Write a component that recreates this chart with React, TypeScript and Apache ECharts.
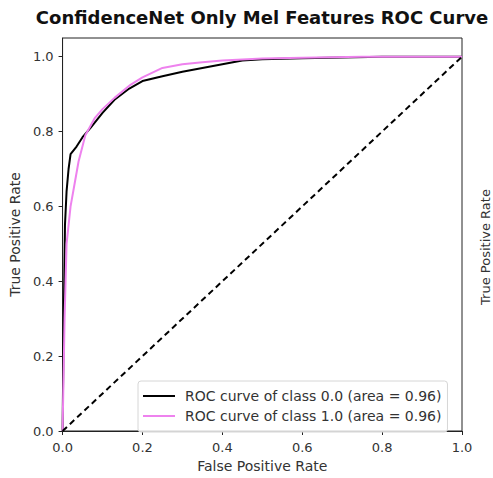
import React, { useEffect, useRef } from "react";
import * as echarts from "echarts";

// ROC curve points (false positive rate, true positive rate)
const fprClass0 = [0, 0.003, 0.006, 0.01, 0.015, 0.02, 0.035, 0.05, 0.07, 0.1, 0.13, 0.167, 0.2, 0.25, 0.3, 0.35, 0.4, 0.45, 0.5, 0.6, 0.7, 0.8, 1.0];
const tprClass0 = [0, 0.3, 0.55, 0.64, 0.7, 0.74, 0.76, 0.785, 0.81, 0.85, 0.885, 0.915, 0.935, 0.948, 0.96, 0.97, 0.98, 0.99, 0.993, 0.996, 0.998, 1.0, 1.0];

const fprClass1 = [0, 0.005, 0.01, 0.02, 0.03, 0.04, 0.057, 0.08, 0.1, 0.13, 0.17, 0.2, 0.25, 0.3, 0.35, 0.4, 0.5, 0.6, 0.75, 1.0];
const tprClass1 = [0, 0.3, 0.5, 0.6, 0.66, 0.72, 0.79, 0.835, 0.86, 0.89, 0.925, 0.945, 0.97, 0.98, 0.985, 0.99, 0.995, 0.997, 1.0, 1.0];

const chanceLine = [
  [0, 0],
  [1, 1],
];

const tickValues = [0, 0.2, 0.4, 0.6, 0.8, 1.0];
const seriesNames = [
  "ROC curve of class 0.0 (area = 0.96)",
  "ROC curve of class 1.0 (area = 0.96)",
];
const titleText = "ConfidenceNet Only Mel Features ROC Curve";
const yAxisTitle = "True Positive Rate";
const xAxisTitle = "False Positive Rate";

const FONT = "DejaVu Sans";

const zip = (xs: number[], ys: number[]) => xs.map((x, i) => [x, ys[i]]);

export default function App() {
  const ref = useRef<HTMLDivElement>(null);

  useEffect(() => {
    if (!ref.current) return;
    const chart = echarts.init(ref.current, undefined, { renderer: "svg" });
    const axisCommon = {
      axisLine: { show: true, lineStyle: { color: "#222", width: 1 } },
      axisTick: {
        show: true,
        inside: false,
        length: 4,
        lineStyle: { color: "#222" },
        customValues: tickValues,
      },
      axisLabel: {
        color: "#333",
        fontSize: 13,
        fontFamily: FONT,
        customValues: tickValues,
        formatter: (v: number) => v.toFixed(1),
      },
      splitLine: { show: false },
      nameLocation: "middle" as const,
      nameTextStyle: { color: "#333", fontSize: 14, fontFamily: FONT },
    };
    chart.setOption({
      animation: false,
      backgroundColor: "#fff",
      grid: {
        left: 60,
        right: 31,
        top: 38,
        bottom: 41,
        show: true,
        borderColor: "#222",
        borderWidth: 1,
        containLabel: false,
      },
      xAxis: {
        type: "value",
        min: 0,
        max: 1,
        ...axisCommon,
        name: xAxisTitle,
        nameGap: 28,
        axisLabel: { ...axisCommon.axisLabel, margin: 10 },
      },
      yAxis: {
        type: "value",
        min: 0,
        max: 1.05,
        ...axisCommon,
        name: yAxisTitle,
        nameGap: 39,
        axisLabel: { ...axisCommon.axisLabel, margin: 9 },
      },
      legend: {
        data: seriesNames,
        orient: "vertical",
        left: 138,
        top: 381,
        itemWidth: 32,
        itemHeight: 2,
        itemGap: 6,
        icon: "rect",
        padding: [8, 6, 9, 5],
        borderColor: "#d6d6d6",
        borderWidth: 1,
        borderRadius: 3,
        backgroundColor: "rgba(255,255,255,0.8)",
        textStyle: {
          color: "#333",
          fontSize: 14,
          lineHeight: 14,
          fontFamily: FONT,
          padding: [0, 0, 0, 5],
        },
      },
      series: [
        {
          name: seriesNames[0],
          type: "line",
          data: zip(fprClass0, tprClass0),
          showSymbol: false,
          lineStyle: { color: "#000", width: 2 },
          itemStyle: { color: "#000" },
          z: 3,
        },
        {
          name: seriesNames[1],
          type: "line",
          data: zip(fprClass1, tprClass1),
          showSymbol: false,
          lineStyle: { color: "#ee82ee", width: 2 },
          itemStyle: { color: "#ee82ee" },
          z: 4,
        },
        {
          name: "chance",
          type: "line",
          data: chanceLine,
          showSymbol: false,
          lineStyle: { color: "#000", width: 2, type: [6, 4] },
          z: 5,
        },
      ],
      graphic: [
        {
          type: "text",
          x: 262,
          y: 8,
          style: {
            text: titleText,
            textAlign: "center",
            textVerticalAlign: "top",
            fill: "#111",
            font: `bold 18px "${FONT}"`,
          },
        },
        {
          // y-axis title of the neighbouring panel on the right
          type: "text",
          x: 485,
          y: 247,
          rotation: Math.PI / 2,
          style: {
            text: yAxisTitle,
            textAlign: "center",
            textVerticalAlign: "middle",
            fill: "#333",
            font: `13px "${FONT}"`,
          },
        },
      ],
    });
    return () => chart.dispose();
  }, []);

  return (
    <div
      ref={ref}
      style={{ position: "absolute", left: 0, top: 0, width: 493, height: 478 }}
    />
  );
}
